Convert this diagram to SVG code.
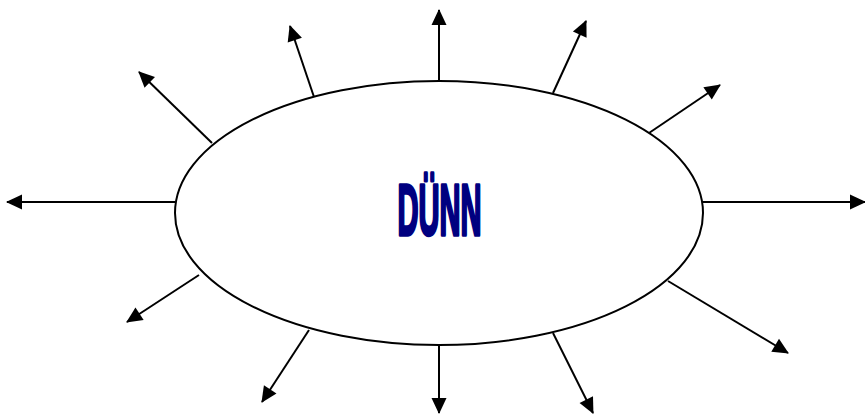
<svg xmlns="http://www.w3.org/2000/svg" width="865" height="414" viewBox="0 0 865 414">
<style>
.c{stroke:#000;stroke-width:2;fill:none;marker-end:url(#ah)}
.t{font-family:"Liberation Sans",Arial,sans-serif;font-weight:bold;font-size:72px;fill:#000080;stroke:#000080;stroke-width:3.5;stroke-linejoin:round}
</style>
<defs>
<marker id="ah" markerUnits="userSpaceOnUse" markerWidth="17" markerHeight="15" refX="15" refY="7.5" orient="auto" overflow="visible">
<path d="M0,0 L16,7.5 L0,15 z" fill="#000"/>
</marker>
</defs>
<rect width="865" height="414" fill="#fff"/>
<g id="connectors">
<line class="c" x1="439" y1="81" x2="439" y2="10"/>
<line class="c" x1="314" y1="97" x2="290" y2="26"/>
<line class="c" x1="212" y1="143" x2="139" y2="72"/>
<line class="c" x1="175" y1="202" x2="7" y2="202"/>
<line class="c" x1="199" y1="275" x2="127" y2="322"/>
<line class="c" x1="309" y1="330" x2="262" y2="402"/>
<line class="c" x1="439" y1="345" x2="439" y2="413"/>
<line class="c" x1="553" y1="333" x2="593" y2="413"/>
<line class="c" x1="668" y1="281" x2="788" y2="353"/>
<line class="c" x1="702" y1="202" x2="865" y2="202"/>
<line class="c" x1="649" y1="133" x2="720" y2="85"/>
<line class="c" x1="553" y1="93" x2="586" y2="21"/>
</g>
<g id="center">
<ellipse cx="439" cy="213" rx="264" ry="132" fill="#fff" stroke="#000" stroke-width="2"/>
<text class="t" x="397.5" y="234.5" textLength="84" lengthAdjust="spacingAndGlyphs">DÜNN</text>
</g>
</svg>
